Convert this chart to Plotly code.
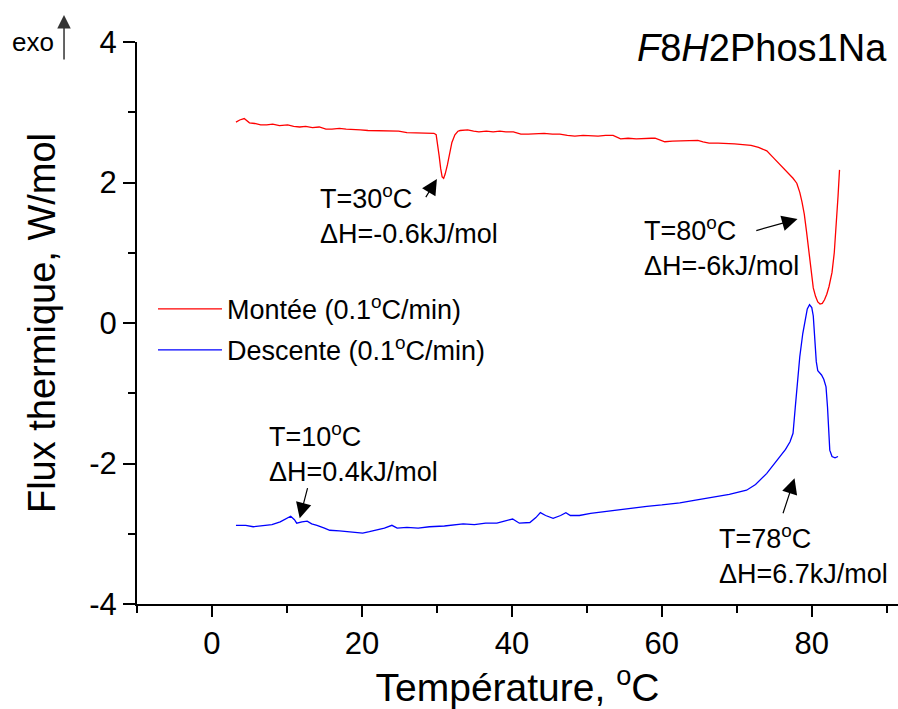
import plotly.graph_objects as go

# ---------------- data ----------------
temp_up = [3.2, 3.7, 4.3, 5.0, 5.7, 6.5, 7.3, 8.1, 9.0, 10.1,
           10.9, 11.7, 12.5, 13.4, 14.3, 15.2, 16.0, 17.0, 17.9, 18.8,
           19.8, 20.8, 21.8, 22.8, 23.9, 24.9, 26.0, 27.0, 28.0, 29.0,
           29.6, 29.9, 30.1, 30.3, 30.5, 30.7, 30.9, 31.1, 31.4, 31.7,
           32.0, 32.4, 32.8, 33.1, 34.1, 34.9, 35.6, 36.6, 37.5, 38.4,
           39.2, 40.2, 41.2, 42.2, 43.3, 44.3, 45.4, 46.4, 47.4, 48.4,
           49.5, 50.5, 51.5, 52.5, 53.5, 54.5, 55.5, 56.6, 57.6, 58.6,
           59.1, 60.4, 61.4, 62.5, 63.6, 64.8, 65.5, 66.3, 67.5, 68.6,
           69.7, 70.8, 71.9, 72.9, 74.0, 74.9, 75.6, 76.1, 76.6, 77.0,
           77.5, 78.0, 78.4, 78.7, 79.0, 79.3, 79.6, 79.9, 80.2, 80.5,
           80.8, 81.1, 81.4, 81.7, 82.0, 82.3, 82.7, 83.0, 83.3, 83.5,
           83.7]
flux_up = [2.86, 2.89, 2.91, 2.85, 2.84, 2.82, 2.82, 2.83, 2.81, 2.82,
           2.80, 2.79, 2.80, 2.78, 2.79, 2.76, 2.76, 2.77, 2.76, 2.76,
           2.75, 2.74, 2.74, 2.73, 2.73, 2.73, 2.71, 2.71, 2.71, 2.70,
           2.70, 2.68, 2.55, 2.38, 2.20, 2.08, 2.06, 2.12, 2.25, 2.42,
           2.57, 2.68, 2.73, 2.74, 2.75, 2.73, 2.72, 2.73, 2.72, 2.73,
           2.72, 2.72, 2.69, 2.69, 2.70, 2.70, 2.69, 2.69, 2.67, 2.66,
           2.67, 2.66, 2.66, 2.67, 2.67, 2.62, 2.63, 2.62, 2.63, 2.63,
           2.63, 2.58, 2.59, 2.59, 2.59, 2.60, 2.58, 2.56, 2.56, 2.56,
           2.55, 2.54, 2.53, 2.50, 2.45, 2.35, 2.27, 2.22, 2.17, 2.12,
           2.06, 1.99, 1.86, 1.72, 1.55, 1.30, 1.00, 0.72, 0.50, 0.38,
           0.30, 0.27, 0.28, 0.33, 0.41, 0.52, 0.72, 1.00, 1.42, 1.80,
           2.18]

temp_down = [3.2, 4.5, 5.5, 6.8, 8.0, 9.1, 10.0, 10.5, 11.0, 11.3,
             12.0, 12.7, 13.3, 14.0, 15.0, 15.7, 17.0, 18.5, 20.1, 21.0,
             22.0, 23.0, 24.0, 24.7, 26.0, 27.5, 29.0, 31.0, 33.5, 35.0,
             36.5, 38.0, 39.0, 40.1, 41.0, 42.4, 43.2, 43.8, 44.5, 45.5,
             46.5, 47.2, 47.8, 49.0, 50.5, 52.0, 54.0, 56.0, 58.0, 60.0,
             62.4, 64.5, 66.8, 69.0, 71.3, 72.5, 74.0, 75.0, 75.7, 76.5,
             77.1, 77.5, 77.8, 78.0, 78.4, 78.8, 79.1, 79.4, 79.7, 80.0,
             80.2, 80.4, 80.6, 80.8, 81.3, 81.6, 81.9, 82.1, 82.2, 82.4,
             82.7, 83.1, 83.5]
flux_down = [-2.88, -2.88, -2.90, -2.89, -2.87, -2.83, -2.78, -2.75, -2.80, -2.85,
             -2.83, -2.82, -2.86, -2.88, -2.92, -2.95, -2.96, -2.97, -2.99, -2.97,
             -2.95, -2.92, -2.88, -2.92, -2.91, -2.92, -2.90, -2.89, -2.86, -2.87,
             -2.85, -2.85, -2.82, -2.79, -2.85, -2.84, -2.77, -2.70, -2.74, -2.78,
             -2.74, -2.70, -2.74, -2.74, -2.71, -2.69, -2.66, -2.63, -2.61, -2.59,
             -2.56, -2.52, -2.48, -2.44, -2.38, -2.30, -2.14, -2.01, -1.91, -1.80,
             -1.69, -1.57, -1.20, -0.95, -0.48, -0.15, 0.05, 0.20, 0.26, 0.22,
             0.10, -0.24, -0.55, -0.68, -0.74, -0.80, -0.91, -1.20, -1.42, -1.81,
             -1.90, -1.92, -1.90]

series_names = ["Montée (0.1<sup>o</sup>C/min)", "Descente (0.1<sup>o</sup>C/min)"]
series_colors = ["#ff0000", "#0000ff"]

x_ticks = [0, 20, 40, 60, 80]
x_ticktext = ["0", "20", "40", "60", "80"]
y_ticks = [-4, -2, 0, 2, 4]
y_ticktext = ["-4", "-2", "0", "2", "4"]

# annotation texts and anchor points (data coordinates)
note_texts = ["T=30<sup>o</sup>C<br>ΔH=-0.6kJ/mol",
              "T=80<sup>o</sup>C<br>ΔH=-6kJ/mol",
              "T=10<sup>o</sup>C<br>ΔH=0.4kJ/mol",
              "T=78<sup>o</sup>C<br>ΔH=6.7kJ/mol"]
note_x = [14.2, 57.3, 7.3, 67.3]
note_y = [1.55, 1.09, -1.84, -3.30]
# arrows: head (x, y) and tail (x, y)
arrow_head_x = [30.0, 78.1, 11.7, 77.7]
arrow_head_y = [2.05, 1.48, -2.78, -2.21]
arrow_tail_x = [28.4, 72.4, 12.8, 76.1]
arrow_tail_y = [1.77, 1.31, -2.33, -2.73]

FONT = "Liberation Sans, Arial, sans-serif"

fig = go.Figure()
for xs, ys, name, col in [(temp_up, flux_up, series_names[0], series_colors[0]),
                          (temp_down, flux_down, series_names[1], series_colors[1])]:
    fig.add_trace(go.Scatter(x=xs, y=ys, mode="lines", name=name,
                             line=dict(color=col, width=1.3), legendgroup=name))

annotations = []
for t, x, y in zip(note_texts, note_x, note_y):
    annotations.append(dict(x=x, y=y, xref="x", yref="y", text=t, showarrow=False,
                            xanchor="left", yanchor="middle", align="left",
                            font=dict(family=FONT, size=27, color="black")))
for hx, hy, tx, ty in zip(arrow_head_x, arrow_head_y, arrow_tail_x, arrow_tail_y):
    annotations.append(dict(x=hx, y=hy, xref="x", yref="y", ax=tx, ay=ty,
                            axref="x", ayref="y", text="", showarrow=True,
                            arrowhead=2, arrowsize=2.6, arrowwidth=1.2,
                            arrowcolor="black", standoff=0))
# title
annotations.append(dict(x=0.988, y=0.99, xref="paper", yref="paper",
                        text="<i>F</i>8<i>H</i>2Phos1Na", showarrow=False,
                        xanchor="right", yanchor="middle",
                        font=dict(family=FONT, size=38, color="black")))
# exo marker
annotations.append(dict(x=-0.107, y=1.0, xref="paper", yref="paper",
                        text="exo", showarrow=False, xanchor="right", yanchor="middle",
                        font=dict(family=FONT, size=26, color="black")))
annotations.append(dict(x=-0.0959, y=1.048, xref="paper", yref="paper",
                        ax=0, ay=46, text="", showarrow=True, arrowhead=2,
                        arrowsize=1.8, arrowwidth=1.5, arrowcolor="#333", standoff=0))

fig.update_layout(
    width=898, height=709,
    margin=dict(l=137, r=0, t=42, b=105, pad=0),
    paper_bgcolor="white", plot_bgcolor="white",
    font=dict(family=FONT, color="black"),
    showlegend=True,
    legend=dict(x=0.021, y=0.568, xanchor="left", yanchor="top",
                bgcolor="rgba(0,0,0,0)", itemwidth=64, tracegroupgap=3,
                font=dict(family=FONT, size=27, color="black")),
    annotations=annotations,
    xaxis=dict(range=[-10, 91.5], tickvals=x_ticks, ticktext=x_ticktext,
               ticks="outside", ticklen=11,
               tickwidth=2, tickcolor="black", showline=True, linewidth=2,
               linecolor="black", showgrid=False, zeroline=False,
               tickfont=dict(family=FONT, size=31, color="black"),
               minor=dict(dtick=10, tick0=-10, ticks="outside", ticklen=7,
                          tickwidth=2, tickcolor="black", showgrid=False),
               title=dict(text="Température, <sup>o</sup>C", standoff=14,
                          font=dict(family=FONT, size=39, color="black"))),
    yaxis=dict(range=[-4, 4], tickvals=y_ticks, ticktext=y_ticktext,
               ticks="outside", ticklen=12,
               tickwidth=2, tickcolor="black", showline=True, linewidth=2,
               linecolor="black", showgrid=False, zeroline=False,
               tickfont=dict(family=FONT, size=31, color="black"),
               minor=dict(dtick=1, tick0=-4, ticks="outside", ticklen=7,
                          tickwidth=2, tickcolor="black", showgrid=False),
               title=dict(text="Flux thermique, W/mol", standoff=22,
                          font=dict(family=FONT, size=38, color="black"))),
)

fig.write_html("out.html")
